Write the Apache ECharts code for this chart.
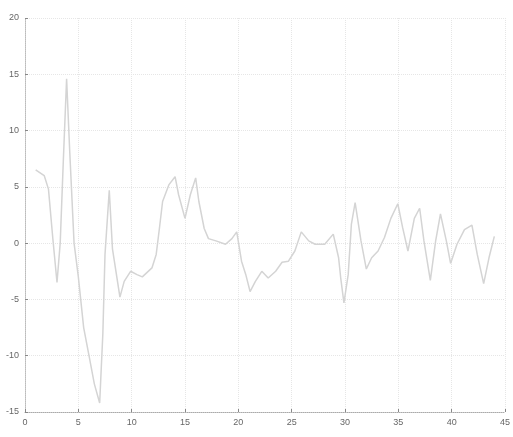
<!DOCTYPE html>
<html>
<head>
<meta charset="utf-8">
<script src="https://cdn.jsdelivr.net/npm/echarts@6/dist/echarts.min.js"></script>
<style>
html,body{margin:0;padding:0;background:#fff;}
#chart{width:513px;height:437px;}
</style>
</head>
<body>
<div id="chart"></div>
<script>
// x positions of the traced curve
var xVals = [1.0,1.8,2.2,2.6,3.0,3.3,3.6,3.9,4.2,4.6,5.0,5.5,6.0,6.5,7.0,7.3,7.5,7.9,8.2,8.9,
	9.3,9.9,10.5,11.0,11.9,12.3,12.6,12.9,13.5,14.07,14.4,15.0,15.5,16.0,16.3,16.8,17.2,17.9,18.8,19.4,19.85,
	20.3,20.7,21.1,21.6,22.2,22.8,23.5,24.1,24.7,25.3,25.9,26.6,27.2,28.1,28.9,29.4,29.6,29.9,
	30.3,30.6,30.95,31.5,32.0,32.5,33.1,33.7,34.3,34.95,35.4,35.9,36.5,37.0,37.4,38.0,38.5,38.95,
	39.5,39.9,40.5,41.2,41.9,42.4,43.0,43.5,44.0];
// y values
var yVals = [6.5,6.0,4.8,0.5,-3.5,0,7.5,14.6,8,0,-3,-7.5,-10,-12.5,-14.2,-8,-1,4.7,-0.5,-4.8,
	-3.4,-2.5,-2.8,-3.0,-2.2,-1.0,1.3,3.7,5.2,5.9,4.3,2.2,4.3,5.8,3.7,1.3,0.4,0.2,-0.1,0.4,1.0,
	-1.6,-2.8,-4.3,-3.4,-2.5,-3.1,-2.5,-1.7,-1.6,-0.7,1.0,0.2,-0.1,-0.1,0.8,-1.3,-3.1,-5.3,
	-2.8,1.7,3.6,0.2,-2.3,-1.3,-0.7,0.5,2.2,3.5,1.4,-0.7,2.2,3.1,0.2,-3.3,0.2,2.6,
	0.2,-1.8,-0.1,1.2,1.6,-1.0,-3.6,-1.3,0.6];

var lineData = [];
for (var i = 0; i < xVals.length; i++) {
	lineData.push([xVals[i], yVals[i]]);
}

var myChart = echarts.init(document.getElementById('chart'));
var option = {
	animation: false,
	grid: {left: 25, right: 5, top: 18, bottom: 25},
	xAxis: {
		type: 'value',
		min: 0,
		max: 45,
		interval: 5,
		axisLine: {onZero: false, lineStyle: {color: '#aaa', type: 'dotted'}},
		axisTick: {inside: true, length: 3, lineStyle: {color: '#888'}},
		axisLabel: {color: '#666', fontSize: 9, margin: 6},
		splitLine: {show: true, lineStyle: {color: '#e6e6e6', type: 'dotted'}}
	},
	yAxis: {
		type: 'value',
		min: -15,
		max: 20,
		interval: 5,
		axisLine: {show: true, lineStyle: {color: '#bbb', type: 'dotted'}},
		axisTick: {show: true, inside: true, length: 3, lineStyle: {color: '#888'}},
		axisLabel: {color: '#666', fontSize: 9, margin: 6},
		splitLine: {show: true, lineStyle: {color: '#e6e6e6', type: 'dotted'}}
	},
	series: [{
		type: 'line',
		data: lineData,
		symbol: 'none',
		lineStyle: {color: '#d4d4d4', width: 1.5}
	}]
};
myChart.setOption(option);
</script>
</body>
</html>
